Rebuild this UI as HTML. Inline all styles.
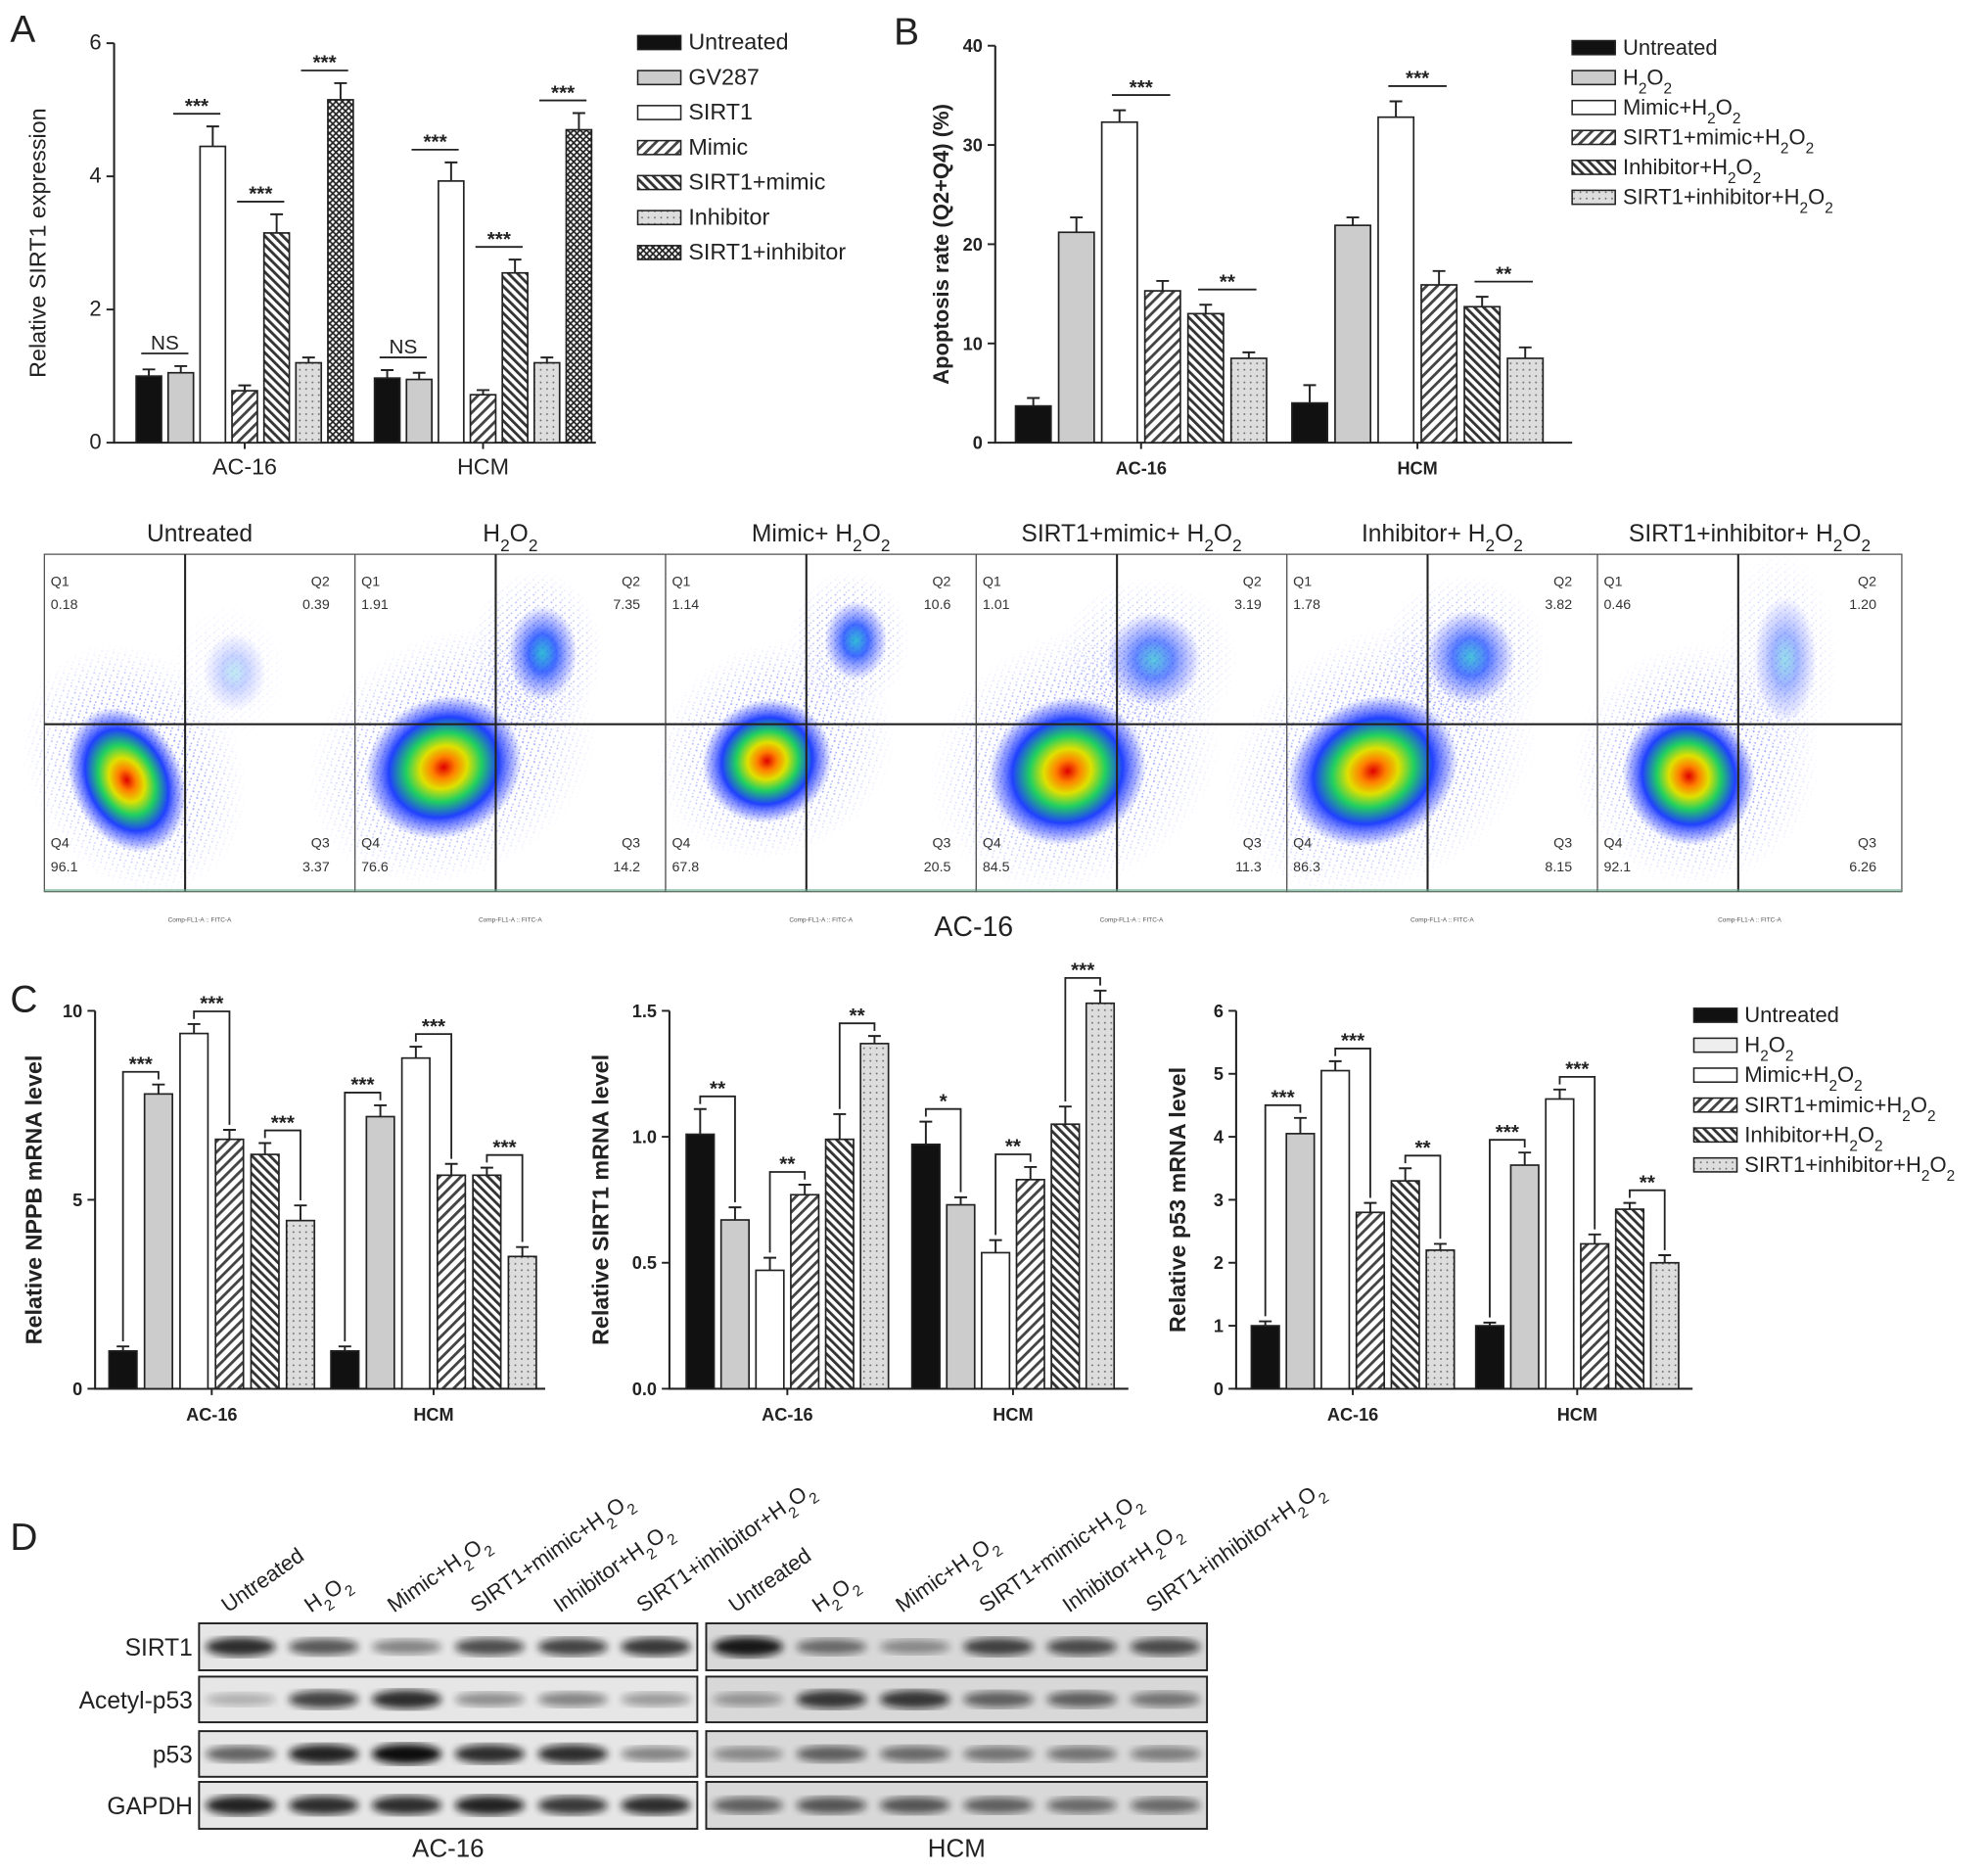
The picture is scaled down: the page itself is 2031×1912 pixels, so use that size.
<!DOCTYPE html>
<html><head><meta charset="utf-8"><style>
html,body{margin:0;padding:0;background:#fff}
svg{display:block;font-family:"Liberation Sans",Arial,sans-serif}
</style></head><body>
<svg id="fig" xmlns="http://www.w3.org/2000/svg" width="2031" height="1912" viewBox="0 0 1568 1476">
<defs>
<pattern id="pHR" width="6" height="6" patternUnits="userSpaceOnUse" patternTransform="rotate(45)"><rect width="6" height="6" fill="#fff"/><rect width="2.2" height="6" fill="#444"/></pattern>
<pattern id="pHL" width="5" height="5" patternUnits="userSpaceOnUse" patternTransform="rotate(-45)"><rect width="5" height="5" fill="#fff"/><rect width="2.2" height="5" fill="#333"/></pattern>
<pattern id="pDot" width="5" height="5" patternUnits="userSpaceOnUse"><rect width="5" height="5" fill="#ddd"/><circle cx="1.5" cy="1.5" r="0.7" fill="#666"/></pattern>
<pattern id="pX" width="5" height="5" patternUnits="userSpaceOnUse"><rect width="5" height="5" fill="#fff"/><path d="M0 0L5 5M5 0L0 5" stroke="#222" stroke-width="1.3"/></pattern>
<pattern id="pSpeck" width="7" height="6" patternUnits="userSpaceOnUse"><circle cx="1" cy="1" r="0.8" fill="#2a3cff"/><circle cx="4.5" cy="3.5" r="0.7" fill="#4050ff"/><circle cx="2.5" cy="5" r="0.6" fill="#3040ee"/></pattern>
<radialGradient id="gBlob"><stop offset="0" stop-color="#e00000"/><stop offset="0.15" stop-color="#ff8000"/><stop offset="0.3" stop-color="#e0e000"/><stop offset="0.48" stop-color="#20d060"/><stop offset="0.7" stop-color="#2040ff"/><stop offset="0.88" stop-color="#5060ff" stop-opacity="0.5"/><stop offset="1" stop-color="#6070ff" stop-opacity="0"/></radialGradient>
<radialGradient id="gBlob2"><stop offset="0" stop-color="#10b0d0"/><stop offset="0.4" stop-color="#2050ff"/><stop offset="0.8" stop-color="#5060ff" stop-opacity="0.4"/><stop offset="1" stop-color="#6070ff" stop-opacity="0"/></radialGradient>
<radialGradient id="gFade"><stop offset="0" stop-color="#fff" stop-opacity="1"/><stop offset="0.6" stop-color="#fff" stop-opacity="0.6"/><stop offset="1" stop-color="#fff" stop-opacity="0"/></radialGradient>
<mask id="mFade" maskContentUnits="objectBoundingBox"><rect width="1" height="1" fill="url(#gFade)"/></mask>
<filter id="blur"><feGaussianBlur stdDeviation="3"/></filter>
</defs>
<g id="root"></g>
</svg>
<script>
const NS='http://www.w3.org/2000/svg';
const root=document.getElementById('root');
function mk(tag,attrs,parent,txt){const e=document.createElementNS(NS,tag);for(const k in attrs)e.setAttribute(k,attrs[k]);if(txt!==undefined)e.innerHTML=txt;(parent||root).appendChild(e);return e;}

// ---------- DATA ----------
const groups=['AC-16','HCM'];
const legendA=['Untreated','GV287','SIRT1','Mimic','SIRT1+mimic','Inhibitor','SIRT1+inhibitor'];
const valsA_AC=[1.0,1.05,4.45,0.78,3.15,1.2,5.15];
const valsA_HCM=[0.97,0.95,3.93,0.72,2.55,1.2,4.7];
const errA_AC=[0.1,0.1,0.3,0.08,0.28,0.08,0.25];
const errA_HCM=[0.12,0.1,0.28,0.07,0.2,0.08,0.25];
const ticksA=[0,2,4,6];
const legendB=['Untreated','H<tspan baseline-shift="sub" font-size="70%">2</tspan>O<tspan baseline-shift="sub" font-size="70%">2</tspan>','Mimic+H<tspan baseline-shift="sub" font-size="70%">2</tspan>O<tspan baseline-shift="sub" font-size="70%">2</tspan>','SIRT1+mimic+H<tspan baseline-shift="sub" font-size="70%">2</tspan>O<tspan baseline-shift="sub" font-size="70%">2</tspan>','Inhibitor+H<tspan baseline-shift="sub" font-size="70%">2</tspan>O<tspan baseline-shift="sub" font-size="70%">2</tspan>','SIRT1+inhibitor+H<tspan baseline-shift="sub" font-size="70%">2</tspan>O<tspan baseline-shift="sub" font-size="70%">2</tspan>'];
const valsB_AC=[3.7,21.2,32.3,15.3,13.0,8.5];
const valsB_HCM=[4.0,21.9,32.8,15.9,13.7,8.5];
const errB_AC=[0.8,1.5,1.2,1.0,0.9,0.6];
const errB_HCM=[1.8,0.8,1.6,1.4,1.0,1.1];
const ticksB=[0,10,20,30,40];
const valsC1_AC=[1.0,7.8,9.4,6.6,6.2,4.45];
const valsC1_HCM=[1.0,7.2,8.75,5.65,5.65,3.5];
const errC1_AC=[0.12,0.25,0.25,0.25,0.3,0.4];
const errC1_HCM=[0.12,0.3,0.3,0.3,0.2,0.25];
const ticksC1=[0,5,10];
const valsC2_AC=[1.01,0.67,0.47,0.77,0.99,1.37];
const valsC2_HCM=[0.97,0.73,0.54,0.83,1.05,1.53];
const errC2_AC=[0.1,0.05,0.05,0.04,0.1,0.03];
const errC2_HCM=[0.09,0.03,0.05,0.05,0.07,0.05];
const ticksC2=['0.0','0.5','1.0','1.5'];
const valsC3_AC=[1.0,4.05,5.05,2.8,3.3,2.2];
const valsC3_HCM=[1.0,3.55,4.6,2.3,2.85,2.0];
const errC3_AC=[0.07,0.25,0.15,0.15,0.2,0.1];
const errC3_HCM=[0.05,0.2,0.15,0.15,0.1,0.12];
const ticksC3=[0,1,2,3,4,5,6];
const flowTitles=['Untreated','H<tspan baseline-shift="sub" font-size="70%">2</tspan>O<tspan baseline-shift="sub" font-size="70%">2</tspan>','Mimic+ H<tspan baseline-shift="sub" font-size="70%">2</tspan>O<tspan baseline-shift="sub" font-size="70%">2</tspan>','SIRT1+mimic+ H<tspan baseline-shift="sub" font-size="70%">2</tspan>O<tspan baseline-shift="sub" font-size="70%">2</tspan>','Inhibitor+ H<tspan baseline-shift="sub" font-size="70%">2</tspan>O<tspan baseline-shift="sub" font-size="70%">2</tspan>','SIRT1+inhibitor+ H<tspan baseline-shift="sub" font-size="70%">2</tspan>O<tspan baseline-shift="sub" font-size="70%">2</tspan>'];
const flowQ1=['0.18','1.91','1.14','1.01','1.78','0.46'];
const flowQ2=['0.39','7.35','10.6','3.19','3.82','1.20'];
const flowQ3=['3.37','14.2','20.5','11.3','8.15','6.26'];
const flowQ4=['96.1','76.6','67.8','84.5','86.3','92.1'];
const blotRows=['SIRT1','Acetyl-p53','p53','GAPDH'];
const blotLanes=['Untreated','H<tspan baseline-shift="sub" font-size="70%">2</tspan>O<tspan baseline-shift="sub" font-size="70%">2</tspan>','Mimic+H<tspan baseline-shift="sub" font-size="70%">2</tspan>O<tspan baseline-shift="sub" font-size="70%">2</tspan>','SIRT1+mimic+H<tspan baseline-shift="sub" font-size="70%">2</tspan>O<tspan baseline-shift="sub" font-size="70%">2</tspan>','Inhibitor+H<tspan baseline-shift="sub" font-size="70%">2</tspan>O<tspan baseline-shift="sub" font-size="70%">2</tspan>','SIRT1+inhibitor+H<tspan baseline-shift="sub" font-size="70%">2</tspan>O<tspan baseline-shift="sub" font-size="70%">2</tspan>'];
const blotAC=[[0.85,0.65,0.45,0.7,0.75,0.8],[0.25,0.75,0.85,0.4,0.45,0.35],[0.6,0.9,1.0,0.85,0.85,0.45],[0.9,0.85,0.85,0.9,0.8,0.85]];
const blotHCM=[[0.95,0.55,0.4,0.75,0.7,0.7],[0.35,0.8,0.8,0.6,0.6,0.5],[0.4,0.6,0.55,0.5,0.5,0.45],[0.6,0.65,0.65,0.6,0.55,0.55]];

const fillsA=['#111','#ccc','#fff','url(#pHR)','url(#pHL)','url(#pDot)','url(#pX)'];
const fills6=['#111','#ccc','#fff','url(#pHR)','url(#pHL)','url(#pDot)'];

function txt(x,y,s,size,opts){opts=opts||{};const t=mk('text',Object.assign({x:x,y:y,'font-size':size,fill:'#222'},opts),root,s);return t;}

function chart(c){
  const y=v=>c.y0-(v/c.max)*(c.y0-c.yTop);
  const g=mk('g',{});
  
  
  const ax=mk('path',{d:`M${c.x0} ${c.yTop}V${c.y0}H${c.x1}`,stroke:'#222','stroke-width':1.6,fill:'none'},g);
  
  
  c.ticks.forEach(t=>{const yy=y(parseFloat(t));
    mk('line',{x1:c.x0-6,x2:c.x0,y1:yy,y2:yy,stroke:'#222','stroke-width':1.5},g);
    const tl=mk('text',{x:c.x0-10,y:yy+5,'font-size':c.tf,'text-anchor':'end',fill:'#222','font-weight':c.bold?'bold':'normal'},g,t);
    
    
  });
  const yl=mk('text',{transform:`translate(${c.ylx},${(c.y0+c.yTop)/2}) rotate(-90)`,'font-size':c.ylf,'text-anchor':'middle',fill:'#222','font-weight':c.bold?'bold':'normal'},g,c.ylabel);
  
  
  [c.ac,c.hcm].forEach((vals,gi)=>{
    const errs=gi?c.ehcm:c.eac;const cen=gi?c.cH:c.cA;const n=vals.length;
    const gl=mk('text',{x:cen,y:c.y0+25,'font-size':c.gf,'text-anchor':'middle',fill:'#222','font-weight':c.bold?'bold':'normal'},g,groups[gi]);
    
    
    mk('line',{x1:cen,x2:cen,y1:c.y0,y2:c.y0+5,stroke:'#222','stroke-width':1.5},g);
    const tops=[];
    vals.forEach((v,i)=>{
      const xc=cen+(i-(n-1)/2)*c.step;const w=c.bw;
      const yt=y(v), ye=y(v+errs[i]);tops.push(ye);
      const r=mk('rect',{x:xc-w/2,y:yt,width:w,height:c.y0-yt,fill:c.fills[i],stroke:'#222','stroke-width':1.3},g);
      
      
      const e=mk('path',{d:`M${xc} ${yt}V${ye}M${xc-5} ${ye}H${xc+5}`,stroke:'#222','stroke-width':1.5,fill:'none'},g);
      
      
    });
    (c.sig[gi]||[]).forEach(s=>{
      const [a,b,lab,style]=s;
      const xa=cen+(a-(n-1)/2)*c.step, xb=cen+(b-(n-1)/2)*c.step;
      const top=Math.min(tops[a],tops[b])-c.gap;
      let d;
      if(style==='drop') d=`M${xa} ${tops[a]-4}V${top}H${xb}V${tops[b]-4}`;
      else d=`M${xa-6} ${top}H${xb+6}`;
      const p=mk('path',{d:d,stroke:'#222','stroke-width':1.4,fill:'none'},g);
      
      
      const st=mk('text',{x:(xa+xb)/2,y:top-(lab==='NS'?3:1),'font-size':16,'text-anchor':'middle',fill:'#222','font-weight':lab==='NS'?'normal':'bold'},g,lab);
      
      
    });
  });
}
function legend(x,y,dy,items,fills,fs,name){
  const g=mk('g',{});
  
  
  items.forEach((s,i)=>{
    const r=mk('rect',{x:x,y:y+i*dy-10,width:34,height:11,fill:fills[i],stroke:'#222','stroke-width':1.2},g);
    
    
    const t=mk('text',{x:x+40,y:y+i*dy+1,'font-size':fs,fill:'#222'},g,s);
    
    
  });
}
function panelLetter(x,y,s){const t=txt(x,y,s,30);}

// ---------- PANEL A ----------
panelLetter(8,33,'A');
chart({name:'chart-a',x0:90,x1:470,y0:349,yTop:34,max:6,ticks:ticksA,tf:17,ylabel:'Relative SIRT1 expression',ylx:36,ylf:18,gf:18,
  ac:valsA_AC,hcm:valsA_HCM,eac:errA_AC,ehcm:errA_HCM,cA:193,cH:381,step:25.2,bw:20,fills:fillsA,gap:10,
  sig:[[[0,1,'NS'],[1,2,'***'],[3,4,'***'],[5,6,'***']],[[0,1,'NS'],[1,2,'***'],[3,4,'***'],[5,6,'***']]]});
legend(503,38,27.6,legendA,fillsA,18,'legend-a');

// ---------- PANEL B ----------
panelLetter(705,35,'B');
chart({name:'chart-b',x0:785,x1:1240,y0:349,yTop:36,max:40,ticks:ticksB,tf:14,bold:true,ylabel:'Apoptosis rate (Q2+Q4) (%)',ylx:748,ylf:17,gf:14,
  ac:valsB_AC,hcm:valsB_HCM,eac:errB_AC,ehcm:errB_HCM,cA:900,cH:1118,step:34,bw:28,fills:fills6,gap:12,
  sig:[[[2,3,'***'],[4,5,'**']],[[2,3,'***'],[4,5,'**']]]});
legend(1240,42,23.6,legendB,fills6,17,'legend-b');

// ---------- FLOW ----------
const fg=mk('g',{});


const blobMain=[[65,615,38,52,1],[70,605,55,48,1],[80,600,45,42,1],[72,608,55,50,1],[68,608,60,50,1],[72,612,45,48,1]];
const blobUp=[[150,530,20,25,0.3],[148,515,22,30,1],[150,505,20,25,1],[140,520,30,30,0.8],[145,518,28,30,0.9],[148,520,20,40,0.5]];
for(let i=0;i<6;i++){
  const px=35+i*245, pw=(i===5?1500:35+(i+1)*245)-px;
  const fr=mk('rect',{x:px,y:437,width:pw,height:266,fill:'#fff',stroke:'#555','stroke-width':1},fg);
  
  
  const t=mk('text',{x:px+pw/2,y:427,'font-size':19,'text-anchor':'middle',fill:'#222'},fg,flowTitles[i]);
  
  
  const bu=blobUp[i], bm=blobMain[i];
  const cloud=mk('g',{'clip-path':'none'},fg);
  
  
  const s1=mk('ellipse',{cx:px+bm[0]+10,cy:bm[1]-5,rx:bm[2]*2.2,ry:bm[3]*2.0,fill:'url(#pSpeck)',mask:'url(#mFade)',opacity:0.7,transform:`rotate(-30 ${px+bm[0]} ${bm[1]})`},cloud);
  
  
  const s2=mk('ellipse',{cx:px+bu[0]-5,cy:bu[1],rx:bu[2]*2.4,ry:bu[3]*2.2,fill:'url(#pSpeck)',mask:'url(#mFade)',opacity:0.6*bu[4]},cloud);
  
  
  const e1=mk('ellipse',{cx:px+bu[0],cy:bu[1],rx:bu[2]*1.25,ry:bu[3]*1.25,fill:'url(#gBlob2)',opacity:bu[4]*0.85},fg);
  
  
  const e2=mk('ellipse',{cx:px+bm[0],cy:bm[1],rx:bm[2]*1.15,ry:bm[3]*1.15,fill:'url(#gBlob)',transform:`rotate(-25 ${px+bm[0]} ${bm[1]})`},fg);
  
  
  const gx=px+111;
  const gl=mk('path',{d:`M${gx} 437V703M${px} 571H${px+pw}`,stroke:'#222','stroke-width':1.6},fg);
  
  
  mk('line',{x1:px,x2:px+pw,y1:702,y2:702,stroke:'#6a8',opacity:0.6,'stroke-width':2},fg);
  [['Q1',px+5,462,'start'],[flowQ1[i],px+5,480,'start'],['Q2',px+pw-20,462,'end'],[flowQ2[i],px+pw-20,480,'end'],
   ['Q4',px+5,668,'start'],[flowQ4[i],px+5,687,'start'],['Q3',px+pw-20,668,'end'],[flowQ3[i],px+pw-20,687,'end']].forEach(q=>{
    const qt=mk('text',{x:q[1],y:q[2],'font-size':11,'text-anchor':q[3],fill:'#333'},fg,q[0]);
    
    
  });
  const xl=mk('text',{x:px+pw/2,y:727,'font-size':5,'text-anchor':'middle',fill:'#555'},fg,'Comp-FL1-A :: FITC-A');
  
  
}
const ac16=txt(768,738,'AC-16',22,{'text-anchor':'middle'});



// ---------- PANEL C ----------
panelLetter(8,798,'C');
chart({name:'chart-c-nppb',x0:75,x1:430,y0:1095,yTop:797,max:10,ticks:ticksC1,tf:14,bold:true,ylabel:'Relative NPPB mRNA level',ylx:33,ylf:18,gf:14,
  ac:valsC1_AC,hcm:valsC1_HCM,eac:errC1_AC,ehcm:errC1_HCM,cA:167,cH:342,step:28,bw:22,fills:fills6,gap:10,
  sig:[[[0,1,'***','drop'],[2,3,'***','drop'],[4,5,'***','drop']],[[0,1,'***','drop'],[2,3,'***','drop'],[4,5,'***','drop']]]});
chart({name:'chart-c-sirt1',x0:528,x1:890,y0:1095,yTop:797,max:1.5,ticks:ticksC2,tf:14,bold:true,ylabel:'Relative SIRT1 mRNA level',ylx:480,ylf:18,gf:14,
  ac:valsC2_AC,hcm:valsC2_HCM,eac:errC2_AC,ehcm:errC2_HCM,cA:621,cH:799,step:27.5,bw:22,fills:fills6,gap:10,
  sig:[[[0,1,'**','drop'],[2,3,'**','drop'],[4,5,'**','drop']],[[0,1,'*','drop'],[2,3,'**','drop'],[4,5,'***','drop']]]});
chart({name:'chart-c-p53',x0:975,x1:1335,y0:1095,yTop:797,max:6,ticks:ticksC3,tf:14,bold:true,ylabel:'Relative p53 mRNA level',ylx:935,ylf:18,gf:14,
  ac:valsC3_AC,hcm:valsC3_HCM,eac:errC3_AC,ehcm:errC3_HCM,cA:1067,cH:1244,step:27.6,bw:22,fills:fills6,gap:10,
  sig:[[[0,1,'***','drop'],[2,3,'***','drop'],[4,5,'**','drop']],[[0,1,'***','drop'],[2,3,'***','drop'],[4,5,'**','drop']]]});
legend(1336,805,23.6,legendB,['#111','#eee','#fff','url(#pHR)','url(#pHL)','url(#pDot)'],17,'legend-c');

// ---------- PANEL D ----------
panelLetter(8,1222,'D');
const bg=mk('g',{});


const rowY=[1280,1322,1365,1405], rowH=[37,36,36,37];
[[157,550,blotAC,'AC-16'],[557,952,blotHCM,'HCM']].forEach((blk,bi)=>{
  const [x0,x1,data,name]=blk; const lw=(x1-x0)/6;
  rowY.forEach((ry,ri)=>{
    const r=mk('rect',{x:x0,y:ry,width:x1-x0,height:rowH[ri],fill:bi?'#d8d8d8':'#e6e6e6',stroke:'#222','stroke-width':1.5},bg);
    
    
    data[ri].forEach((v,li)=>{
      const b=mk('ellipse',{cx:x0+lw*(li+0.5),cy:ry+rowH[ri]/2,rx:lw*0.42,ry:4+v*4,fill:'#111',opacity:v,filter:'url(#blur)'},bg);
      
      
    });
  });
  const cl=mk('text',{x:(x0+x1)/2,y:1464,'font-size':20,'text-anchor':'middle',fill:'#222'},bg,name);
  
  
  blotLanes.forEach((s,li)=>{
    const lx=x0+lw*(li+0.5)-10, ly=1272;
    const t=mk('text',{transform:`translate(${lx},${ly}) rotate(-35)`,'font-size':17,fill:'#222'},bg,s);
    
    
  });
});
blotRows.forEach((s,ri)=>{
  const t=mk('text',{x:152,y:rowY[ri]+rowH[ri]/2+7,'font-size':19,'text-anchor':'end',fill:'#222'},bg,s);
  
  
});
</script>
</body></html>
